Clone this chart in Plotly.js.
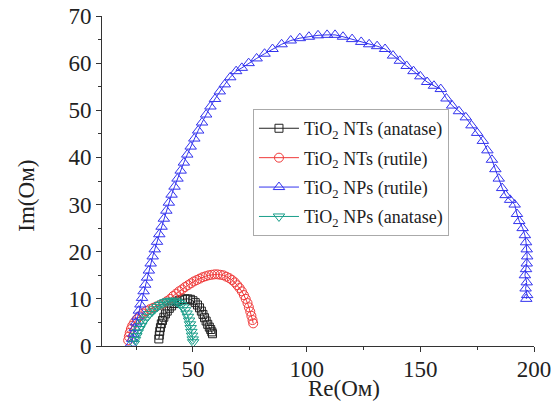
<!DOCTYPE html>
<html>
<head>
<meta charset="utf-8">
<script src="https://cdn.plot.ly/plotly-3.0.1.min.js"></script>
<style>html,body{margin:0;padding:0;background:#fff;}#chart{width:559px;height:403px;}</style>
</head>
<body>
<div id="chart"></div>
<script>
// Series names
const seriesNames = [
  "TiO<sub>2</sub> NTs (anatase)",
  "TiO<sub>2</sub> NTs (rutile)",
  "TiO<sub>2</sub> NPs (rutile)",
  "TiO<sub>2</sub> NPs (anatase)"
];

// TiO2 NTs (anatase) - black squares
const ntsAnataseRe = [35.0,35.2,35.4,35.7,36.1,36.6,37.2,37.9,38.7,39.6,40.6,41.7,42.9,44.1,45.3,46.5,47.7,48.9,50.0,51.0,52.0,52.9,53.7,54.4,55.1,55.8,56.5,57.2,57.8,58.3,58.6];
const ntsAnataseIm = [1.5,2.3,3.1,3.9,4.7,5.4,6.1,6.8,7.4,8.0,8.5,9.0,9.4,9.7,9.9,10.0,10.0,9.9,9.6,9.2,8.7,8.1,7.4,6.7,6.0,5.3,4.6,4.0,3.5,3.0,2.6];

// TiO2 NTs (rutile) - red circles
const ntsRutileRe = [21.5,21.8,22.2,22.7,23.3,24.2,25.3,26.6,28.0,29.5,31.0,32.5,34.0,35.5,37.0,38.5,40.0,41.3,42.6,43.9,45.2,46.5,47.8,49.1,50.4,51.7,53.0,54.3,55.6,56.9,58.2,59.5,60.8,62.1,63.4,64.7,66.0,67.2,68.4,69.5,70.5,71.5,72.4,73.2,74.0,74.6,75.2,75.7,76.2,76.5];
const ntsRutileIm = [1.2,2.0,2.8,3.6,4.3,5.0,5.7,6.3,6.9,7.4,7.8,8.1,8.4,8.7,9.0,9.5,10.0,10.6,11.1,11.6,12.0,12.5,12.9,13.3,13.7,14.0,14.3,14.6,14.8,15.0,15.1,15.2,15.2,15.1,15.0,14.7,14.4,14.0,13.5,12.9,12.3,11.6,10.8,10.0,9.1,8.2,7.3,6.4,5.5,4.8];

// TiO2 NPs (rutile) - blue triangles up
const npsRutileRe = [22.8,23.3,23.8,24.4,25.0,25.6,26.2,26.9,27.6,28.3,29.0,29.8,30.6,31.4,32.3,33.2,34.2,35.2,36.2,37.2,38.3,39.4,40.6,41.9,43.2,44.6,46.0,47.5,49.0,50.6,52.3,54.0,55.8,57.7,59.7,61.8,64.0,66.4,69.0,71.5,74.5,78.0,81.5,85.0,89.0,93.0,97.0,101.0,105.0,109.0,112.5,116.0,120.0,124.0,127.5,131.0,134.5,138.0,141.0,144.0,147.0,150.0,153.0,156.0,159.0,161.5,164.0,167.0,170.0,172.5,175.0,177.5,179.5,181.5,183.0,184.5,186.0,187.5,189.5,191.5,192.5,193.5,195.0,196.0,196.5,196.8,197.0,196.8,196.5,196.0,196.8,196.3,197.0,196.6];
const npsRutileIm = [0.5,1.5,2.6,3.8,5.0,6.2,7.5,8.8,10.2,11.6,13.0,14.5,16.0,17.5,19.0,20.5,22.1,23.7,25.3,27.0,28.7,30.4,32.1,33.8,35.5,37.2,38.9,40.6,42.3,44.0,45.7,47.4,49.1,50.8,52.4,54.0,55.5,57.0,58.3,59.0,60.0,61.0,62.0,63.0,64.0,64.8,65.3,65.6,65.9,66.0,66.0,65.6,65.1,64.5,64.0,63.6,63.0,61.6,60.5,59.4,58.3,57.2,56.0,55.2,54.5,52.5,51.0,49.8,48.5,46.8,45.2,43.5,41.5,39.5,37.5,35.5,33.5,32.0,31.0,30.0,28.0,26.5,25.0,23.5,22.0,20.5,19.0,17.5,16.3,15.0,13.5,12.2,10.8,10.0];

// TiO2 NPs (anatase) - teal triangles down
const npsAnataseRe = [24.0,24.5,25.1,25.7,26.4,27.2,28.0,28.9,29.9,30.9,32.0,33.1,34.3,35.5,36.7,37.9,39.1,40.3,41.5,42.7,43.8,44.8,45.7,46.5,47.2,47.8,48.3,48.7,49.0,49.3,49.6,49.9,50.1];
const npsAnataseIm = [0.5,1.3,2.1,2.9,3.6,4.3,5.0,5.6,6.2,6.8,7.3,7.8,8.3,8.7,9.0,9.3,9.5,9.6,9.6,9.4,9.1,8.7,8.2,7.6,6.9,6.2,5.4,4.6,3.8,3.0,2.2,1.4,0.8];

// Axis ticks
const xTickVals = [50,100,150,200];
const xTickText = ["50","100","150","200"];
const yTickVals = [0,10,20,30,40,50,60,70];
const yTickText = ["0","10","20","30","40","50","60","70"];

const FONT = "Liberation Serif";

function tr(x, y, name, color, symbol, size, grp) {
  return {
    x: x, y: y, name: name, type: "scatter", mode: "lines+markers", legendgroup: grp,
    line: {color: color, width: 1},
    marker: {symbol: symbol, size: size, color: color, line: {color: color, width: 1}}
  };
}

const data = [
  tr(ntsAnataseRe, ntsAnataseIm, seriesNames[0], "#222222", "square-open", 8, "a"),
  tr(ntsRutileRe, ntsRutileIm, seriesNames[1], "#f03a3a", "circle-open", 9, "b"),
  tr(npsRutileRe, npsRutileIm, seriesNames[2], "#3333ee", "triangle-up-open", 10, "c"),
  tr(npsAnataseRe, npsAnataseIm, seriesNames[3], "#1a9e8a", "triangle-down-open", 10, "d")
];

const layout = {
  width: 559, height: 403,
  margin: {l: 102, r: 25, t: 16, b: 57},
  paper_bgcolor: "#fff", plot_bgcolor: "#fff",
  font: {family: FONT, color: "#222"},
  showlegend: true,
  legend: {
    x: 0.3495, y: 0.718, xanchor: "left", yanchor: "top",
    bordercolor: "#aaaaaa", borderwidth: 1, bgcolor: "#ffffff",
    font: {family: FONT, size: 18, color: "#222"},
    itemwidth: 40, tracegroupgap: 3, traceorder: "grouped"
  },
  xaxis: {
    range: [10, 200], tickvals: xTickVals, ticktext: xTickText,
    showgrid: false, zeroline: false, showline: true, linecolor: "#333", linewidth: 1,
    ticks: "outside", ticklen: 5, tickcolor: "#333", ticklabelstandoff: -3,
    minor: {dtick: 25, tick0: 0, ticks: "outside", ticklen: 3, tickcolor: "#333", showgrid: false},
    tickfont: {family: FONT, size: 23, color: "#222"}
  },
  yaxis: {
    range: [0, 70], tickvals: yTickVals, ticktext: yTickText,
    showgrid: false, zeroline: false, showline: true, linecolor: "#333", linewidth: 1,
    ticks: "outside", ticklen: 5, tickcolor: "#333",
    minor: {dtick: 5, tick0: 0, ticks: "outside", ticklen: 3, tickcolor: "#333", showgrid: false},
    tickfont: {family: FONT, size: 23, color: "#222"}
  },
  annotations: [
    {text: "Re(Ом)", xref: "paper", yref: "paper", x: 0.56, y: -0.13, xanchor: "center", yanchor: "middle",
     showarrow: false, font: {family: FONT, size: 23, color: "#222"}},
    {text: "Im(Ом)", xref: "paper", yref: "paper", x: -0.174, y: 0.455, xanchor: "center", yanchor: "middle",
     textangle: -90, showarrow: false, font: {family: FONT, size: 23, color: "#222"}}
  ]
};

Plotly.newPlot("chart", data, layout, {displayModeBar: false, staticPlot: true});
</script>
</body>
</html>
